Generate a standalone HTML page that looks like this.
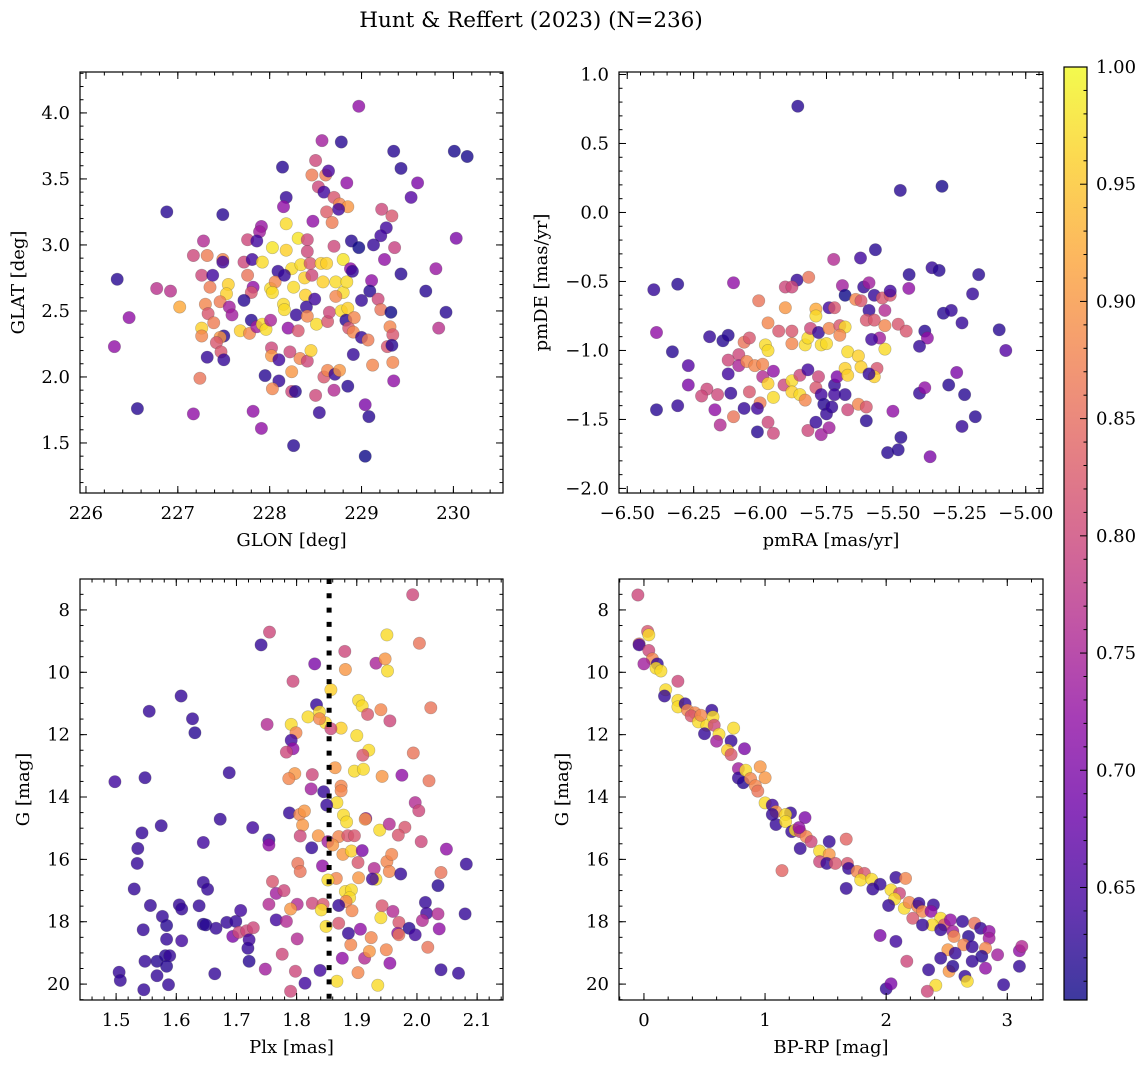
<!DOCTYPE html>
<html><head><meta charset="utf-8"><title>Hunt & Reffert (2023)</title>
<style>
html,body{margin:0;padding:0;background:#fff;}
svg{display:block;font-family:"DejaVu Serif","Liberation Serif",serif;}
</style></head>
<body>
<svg id="fig" width="1148" height="1067" viewBox="0 0 1148 1067" xmlns="http://www.w3.org/2000/svg">
<text x="531" y="27" text-anchor="middle" font-size="21.5" fill="#000">Hunt &amp; Reffert (2023) (N=236)</text>
</svg>
<script>
// ---- Panel 1: GLON / GLAT ----
const glon=[228.97,228.57,228.78,229.35,230.01,230.15,228.14,229.43,228.50,228.46,228.61,228.64,228.84,229.61,229.54,228.53,228.59,228.18,228.15,228.70,228.76,228.85,228.75,228.62,228.68,228.47,229.22,229.33,229.27,229.21,230.03,226.88,227.49,228.18,227.91,227.89,228.31,228.41,227.76,227.86,227.28,228.03,228.18,228.41,228.70,228.89,228.97,229.13,229.36,227.17,227.32,227.49,227.49,227.72,227.81,227.92,228.09,228.24,228.34,228.44,228.56,228.62,228.80,228.88,229.25,229.81,229.43,226.34,226.77,226.92,227.26,227.38,227.35,227.55,227.53,227.76,227.82,227.80,227.72,228.01,228.06,228.03,228.16,228.26,228.38,228.46,228.39,228.49,228.58,228.72,228.80,228.84,228.72,228.90,229.11,229.09,229.00,229.18,229.21,229.32,229.70,229.92,229.84,226.47,226.31,227.02,227.30,227.33,227.46,227.56,227.59,227.39,227.26,227.26,227.50,227.46,227.42,227.47,227.32,227.50,227.68,227.78,227.80,227.86,227.92,227.96,228.01,228.15,228.16,228.29,228.40,228.41,228.20,228.31,228.51,228.63,228.65,228.78,228.85,228.83,228.92,228.86,228.91,229.00,229.07,229.31,229.34,229.28,229.33,228.91,229.12,229.34,229.35,228.02,228.02,228.10,228.22,228.33,228.41,228.45,228.24,227.95,228.10,228.03,228.24,228.28,228.50,228.59,228.63,228.71,228.76,228.70,228.85,227.24,226.56,227.17,227.82,227.91,228.54,229.04,229.08,228.26,229.04];
const glat=[4.05,3.79,3.78,3.71,3.71,3.67,3.59,3.58,3.64,3.53,3.53,3.56,3.47,3.47,3.36,3.44,3.40,3.36,3.29,3.36,3.31,3.29,3.27,3.25,3.17,3.18,3.27,3.22,3.13,3.07,3.05,3.25,3.23,3.16,3.14,3.10,3.05,3.04,3.04,3.03,3.03,2.98,2.96,2.95,2.99,3.03,2.98,3.00,2.98,2.92,2.92,2.89,2.87,2.87,2.89,2.87,2.80,2.82,2.85,2.86,2.86,2.86,2.89,2.82,2.89,2.82,2.78,2.74,2.67,2.65,2.77,2.77,2.68,2.70,2.63,2.77,2.68,2.64,2.58,2.67,2.72,2.64,2.77,2.68,2.75,2.77,2.62,2.59,2.72,2.72,2.64,2.72,2.61,2.80,2.73,2.65,2.58,2.59,2.51,2.49,2.65,2.49,2.37,2.45,2.23,2.53,2.55,2.48,2.57,2.53,2.47,2.41,2.37,2.31,2.31,2.30,2.26,2.19,2.15,2.13,2.35,2.33,2.43,2.38,2.40,2.36,2.43,2.55,2.51,2.47,2.53,2.46,2.37,2.35,2.40,2.42,2.49,2.50,2.52,2.43,2.45,2.37,2.34,2.30,2.28,2.38,2.32,2.23,2.24,2.17,2.09,2.11,1.97,2.22,2.16,2.13,2.19,2.14,2.12,2.20,2.04,2.01,1.97,1.91,1.89,1.89,1.86,2.00,2.05,2.02,2.05,1.90,1.93,1.99,1.76,1.72,1.74,1.61,1.73,1.79,1.70,1.48,1.40];
const prob1=[0.72,0.74,0.62,0.62,0.61,0.61,0.62,0.62,0.8,0.87,0.87,0.65,0.72,0.7,0.66,0.8,0.64,0.63,0.72,0.82,0.88,0.9,0.64,0.83,0.87,0.72,0.8,0.82,0.64,0.64,0.7,0.62,0.62,0.97,0.73,0.74,0.98,0.8,0.8,0.64,0.76,0.98,0.96,0.8,0.8,0.62,0.6,0.63,0.79,0.8,0.87,0.88,0.64,0.8,0.64,0.97,0.63,0.97,0.97,0.82,0.96,0.96,0.98,0.72,0.72,0.73,0.62,0.62,0.77,0.77,0.8,0.64,0.87,0.96,0.96,0.86,0.72,0.82,0.62,0.97,0.88,0.97,0.63,0.97,0.96,0.8,0.96,0.64,0.96,0.97,0.97,0.97,0.88,0.63,0.72,0.62,0.63,0.8,0.86,0.6,0.62,0.62,0.77,0.72,0.72,0.92,0.88,0.82,0.87,0.74,0.74,0.87,0.96,0.88,0.62,0.9,0.82,0.82,0.63,0.63,0.96,0.88,0.62,0.74,0.97,0.97,0.75,0.97,0.97,0.63,0.63,0.88,0.72,0.82,0.97,0.82,0.8,0.97,0.96,0.62,0.88,0.82,0.88,0.63,0.87,0.88,0.82,0.82,0.62,0.63,0.88,0.88,0.72,0.8,0.9,0.64,0.8,0.88,0.8,0.96,0.9,0.62,0.63,0.88,0.8,0.62,0.8,0.82,0.88,0.63,0.9,0.76,0.62,0.86,0.62,0.72,0.72,0.72,0.63,0.7,0.62,0.62,0.6];
// ---- Panel 2: pmRA / pmDE ----
const pmra=[-5.858,-5.472,-5.315,-5.566,-5.622,-5.723,-5.353,-5.326,-5.439,-5.177,-6.40,-6.31,-6.10,-5.861,-5.817,-5.905,-5.88,-5.69,-5.68,-5.61,-5.59,-5.57,-5.54,-5.51,-5.51,-5.44,-5.20,-6.005,-5.905,-5.79,-5.79,-5.74,-5.72,-5.64,-5.62,-5.59,-5.53,-5.31,-5.28,-5.24,-5.10,-5.075,-6.39,-6.33,-6.27,-6.27,-6.39,-6.31,-6.19,-6.14,-6.12,-6.08,-6.06,-6.04,-6.12,-6.08,-6.05,-6.02,-5.99,-5.98,-5.97,-5.97,-5.93,-5.88,-5.88,-5.83,-5.82,-5.81,-5.78,-5.77,-5.75,-5.74,-5.70,-5.68,-5.70,-5.67,-5.63,-5.62,-5.60,-5.57,-5.53,-5.53,-5.55,-5.58,-5.48,-5.45,-5.38,-5.37,-5.40,-6.12,-5.99,-5.97,-5.95,-6.00,-6.01,-5.95,-5.91,-5.88,-5.88,-5.85,-5.83,-5.85,-5.82,-5.78,-5.79,-5.77,-5.76,-5.72,-5.72,-5.71,-5.68,-5.67,-5.68,-5.67,-5.63,-5.60,-5.56,-5.57,-5.59,-6.20,-6.22,-6.16,-6.11,-6.17,-6.15,-6.10,-6.06,-6.04,-6.01,-5.95,-5.97,-5.82,-5.79,-5.77,-5.74,-5.75,-5.73,-5.60,-5.50,-5.47,-5.52,-5.48,-5.36,-5.26,-5.29,-5.40,-5.38,-5.23,-5.24,-5.19];
const pmde=[0.77,0.16,0.19,-0.27,-0.33,-0.34,-0.40,-0.42,-0.45,-0.45,-0.56,-0.52,-0.51,-0.49,-0.47,-0.54,-0.54,-0.53,-0.60,-0.54,-0.51,-0.60,-0.62,-0.60,-0.57,-0.55,-0.59,-0.64,-0.69,-0.70,-0.75,-0.69,-0.69,-0.63,-0.64,-0.71,-0.71,-0.73,-0.71,-0.80,-0.85,-1.00,-0.87,-1.01,-1.11,-1.25,-1.43,-1.40,-0.90,-0.93,-0.89,-1.03,-0.94,-0.91,-1.07,-1.11,-1.08,-1.11,-1.10,-0.96,-1.00,-0.80,-0.86,-0.86,-0.95,-0.96,-0.91,-0.84,-0.87,-0.96,-0.95,-0.84,-0.82,-0.83,-0.89,-1.01,-1.04,-1.12,-0.78,-0.78,-0.82,-0.99,-0.91,-0.92,-0.81,-0.86,-0.86,-0.91,-0.97,-1.17,-1.19,-1.24,-1.34,-1.38,-1.42,-1.15,-1.25,-1.22,-1.30,-1.32,-1.36,-1.18,-1.14,-1.19,-1.27,-1.32,-1.39,-1.25,-1.32,-1.19,-1.13,-1.18,-1.32,-1.43,-1.39,-1.41,-1.13,-1.19,-1.17,-1.28,-1.33,-1.32,-1.31,-1.43,-1.54,-1.48,-1.42,-1.30,-1.59,-1.60,-1.52,-1.58,-1.52,-1.61,-1.56,-1.46,-1.41,-1.51,-1.44,-1.63,-1.74,-1.72,-1.77,-1.16,-1.25,-1.31,-1.27,-1.32,-1.55,-1.48];
const prob2=[0.62,0.62,0.61,0.62,0.64,0.76,0.63,0.62,0.62,0.62,0.63,0.62,0.72,0.63,0.86,0.8,0.8,0.74,0.6,0.63,0.74,0.63,0.82,0.82,0.64,0.72,0.63,0.86,0.9,0.92,0.97,0.64,0.82,0.88,0.82,0.63,0.76,0.62,0.63,0.63,0.62,0.66,0.72,0.62,0.66,0.7,0.62,0.63,0.63,0.62,0.62,0.8,0.86,0.82,0.8,0.75,0.88,0.88,0.88,0.97,0.97,0.88,0.82,0.82,0.88,0.97,0.97,0.8,0.63,0.97,0.97,0.88,0.82,0.97,0.88,0.97,0.96,0.96,0.82,0.82,0.88,0.97,0.74,0.64,0.82,0.82,0.62,0.72,0.63,0.64,0.76,0.96,0.97,0.87,0.64,0.72,0.8,0.97,0.96,0.97,0.88,0.8,0.64,0.8,0.82,0.64,0.62,0.63,0.64,0.7,0.96,0.96,0.63,0.8,0.88,0.82,0.82,0.96,0.63,0.8,0.8,0.8,0.63,0.72,0.76,0.86,0.63,0.82,0.62,0.8,0.8,0.8,0.63,0.74,0.74,0.63,0.63,0.62,0.72,0.62,0.62,0.62,0.7,0.7,0.62,0.63,0.72,0.62,0.63,0.62];
// ---- Panel 3: Plx / G ----
const plx=[1.993,1.755,1.741,1.950,2.004,1.880,1.830,1.932,1.947,1.951,1.881,1.794,1.857,1.608,1.555,1.627,1.631,1.833,1.838,1.819,1.848,1.791,1.751,1.838,1.903,1.909,1.940,1.918,1.955,2.023,1.874,1.857,1.799,1.791,1.794,1.783,1.900,1.920,1.910,1.994,1.864,1.896,1.911,1.797,1.787,1.826,1.688,1.498,1.548,1.942,1.975,2.020,1.824,1.874,1.874,1.845,1.867,1.850,1.997,2.003,1.788,1.805,1.813,1.810,1.878,1.883,1.915,1.914,1.938,1.954,1.980,1.969,2.007,2.049,2.082,1.673,1.727,1.575,1.543,1.536,1.535,1.645,1.754,1.754,1.806,1.836,1.852,1.870,1.885,1.896,1.825,1.860,1.877,1.891,1.909,1.902,1.802,1.806,1.843,1.929,1.950,1.958,1.954,1.973,2.040,2.035,1.932,1.926,1.903,1.866,1.852,1.760,1.645,1.652,1.530,1.766,1.779,1.881,1.891,1.888,1.882,1.892,1.826,1.801,1.790,1.754,1.844,1.841,1.870,1.942,1.940,1.960,1.970,2.014,2.016,2.009,2.035,2.037,2.080,1.557,1.577,1.584,1.545,1.605,1.609,1.638,1.645,1.649,1.666,1.684,1.699,1.707,1.694,1.704,1.717,1.728,1.721,1.719,1.721,1.584,1.609,1.548,1.568,1.582,1.589,1.584,1.568,1.587,1.546,1.505,1.507,1.664,1.748,1.798,1.839,1.790,1.814,1.867,1.902,1.935,2.040,2.069,1.955,1.913,1.876,1.776,1.801,1.849,1.870,1.766,1.783,1.890,1.886,1.906,1.924,1.921,1.949,1.968,1.987,1.997,2.018,1.970];
const gmag3=[7.51,8.71,9.12,8.80,9.07,9.33,9.73,9.71,9.57,9.96,9.91,10.29,10.56,10.76,11.25,11.49,11.94,11.04,11.27,11.43,11.62,11.67,11.67,11.49,10.90,11.08,11.20,11.35,11.56,11.14,11.79,11.81,11.94,12.18,12.45,12.56,12.03,12.50,12.66,12.59,13.06,13.17,13.11,13.25,13.41,13.28,13.22,13.51,13.38,13.34,13.30,13.48,13.74,13.65,13.80,13.83,14.18,14.26,14.18,14.44,14.51,14.56,14.45,14.90,14.58,14.80,14.69,14.71,15.06,14.87,14.97,15.22,15.43,15.67,16.15,14.71,14.98,14.92,15.15,15.65,16.13,15.46,15.38,15.54,15.25,15.24,15.43,15.27,15.24,15.24,15.63,15.54,15.84,15.73,15.72,16.10,16.13,16.39,16.21,16.29,16.07,15.84,16.39,16.47,16.42,16.84,16.64,16.63,16.59,16.61,16.66,16.71,16.74,16.96,16.95,17.09,17.00,17.03,16.98,17.23,17.35,17.65,17.41,17.44,17.59,17.44,17.44,17.62,17.48,17.49,17.87,17.67,18.02,17.38,17.73,17.96,17.75,18.23,17.75,17.48,17.83,18.12,18.26,17.46,17.59,17.49,18.08,18.10,18.21,18.02,17.99,17.64,18.47,18.34,18.29,18.19,18.58,18.85,19.27,18.56,18.61,19.27,19.27,19.09,19.09,19.43,19.73,20.02,20.18,19.62,19.88,19.67,19.52,19.59,19.56,20.23,19.97,19.91,19.63,20.04,19.54,19.65,19.33,19.17,19.17,19.04,18.55,18.15,18.05,17.94,17.99,18.74,18.37,18.24,18.51,18.95,18.90,18.37,18.21,18.42,18.82,18.42];
const prob3=[0.8,0.8,0.63,0.97,0.86,0.8,0.7,0.75,0.9,0.97,0.9,0.8,0.96,0.63,0.63,0.63,0.62,0.63,0.97,0.97,0.97,0.97,0.76,0.88,0.97,0.97,0.88,0.82,0.8,0.86,0.96,0.8,0.88,0.64,0.72,0.8,0.97,0.97,0.82,0.86,0.9,0.97,0.97,0.9,0.88,0.8,0.63,0.64,0.63,0.9,0.72,0.86,0.74,0.88,0.88,0.63,0.97,0.63,0.76,0.8,0.63,0.88,0.9,0.9,0.97,0.97,0.72,0.9,0.97,0.76,0.82,0.82,0.8,0.72,0.63,0.63,0.64,0.63,0.63,0.63,0.63,0.64,0.63,0.72,0.8,0.9,0.74,0.88,0.82,0.82,0.63,0.9,0.9,0.96,0.7,0.82,0.86,0.86,0.72,0.76,0.88,0.88,0.88,0.63,0.86,0.62,0.97,0.64,0.9,0.88,0.97,0.82,0.63,0.63,0.63,0.74,0.8,0.97,0.97,0.97,0.88,0.88,0.8,0.76,0.9,0.76,0.82,0.97,0.63,0.82,0.97,0.76,0.82,0.63,0.64,0.76,0.76,0.72,0.63,0.63,0.63,0.62,0.63,0.63,0.63,0.63,0.62,0.62,0.63,0.63,0.63,0.64,0.7,0.8,0.8,0.8,0.64,0.63,0.62,0.63,0.64,0.63,0.62,0.62,0.63,0.62,0.63,0.63,0.63,0.63,0.63,0.63,0.74,0.8,0.64,0.8,0.64,0.97,0.88,0.97,0.63,0.63,0.72,0.76,0.72,0.8,0.76,0.97,0.82,0.64,0.76,0.88,0.63,0.72,0.88,0.9,0.88,0.72,0.62,0.64,0.86,0.86];
// ---- Panel 4: BP-RP / G ----
const bprp=[-0.05,0.03,0.04,-0.04,-0.04,0.04,0.07,0.11,0.0,0.10,0.14,0.28,0.18,0.17,0.28,0.28,0.34,0.36,0.42,0.39,0.45,0.52,0.50,0.56,0.57,0.58,0.62,0.60,0.74,0.72,0.83,0.69,0.72,0.78,0.78,0.84,0.82,0.88,0.96,1.00,0.92,0.94,1.00,1.06,1.09,1.21,1.33,1.17,1.09,1.17,1.22,1.25,1.29,1.34,1.38,1.29,1.53,1.45,1.53,1.67,1.14,1.45,1.51,1.58,1.68,1.69,1.76,1.82,1.79,1.88,2.08,2.16,1.67,1.95,1.89,2.04,2.11,2.07,2.02,2.15,2.19,2.26,2.27,2.30,2.22,2.39,2.37,2.45,2.38,2.30,2.48,2.53,2.63,2.73,2.55,2.56,2.45,2.68,2.78,2.85,2.85,2.64,2.51,2.57,2.71,2.82,2.92,2.79,2.71,2.45,2.35,2.52,2.55,2.65,2.67,2.82,3.10,3.12,3.10,2.97,2.41,2.34,2.00,2.04,1.95,2.08,2.17,0.47,1.06,1.28];
const gmag4=[7.52,8.69,8.80,9.09,9.12,9.30,9.57,9.73,9.73,9.87,9.96,10.29,10.56,10.76,10.90,11.11,11.01,11.22,11.30,11.40,11.59,11.70,11.97,11.22,11.43,11.70,11.99,12.21,11.79,12.20,12.45,12.50,12.64,13.09,13.39,13.14,13.54,13.41,13.03,13.38,13.64,13.81,14.19,14.26,14.47,14.51,14.66,14.56,14.88,14.79,15.11,15.06,15.11,15.27,15.43,15.65,15.43,15.73,15.84,15.35,16.36,16.07,16.13,16.13,16.13,16.29,16.39,16.45,16.66,16.64,16.58,16.61,16.93,16.80,16.95,16.98,17.09,17.27,17.48,17.57,17.38,17.51,17.41,17.67,17.89,17.46,17.67,17.89,18.10,18.10,18.10,17.94,17.99,18.05,18.31,18.47,18.26,18.47,18.21,18.31,18.53,18.74,18.90,19.01,18.80,18.85,19.06,19.11,19.27,19.17,19.54,19.59,19.43,19.75,19.91,19.49,18.93,18.79,19.43,20.02,20.04,20.23,20.15,19.99,18.44,18.63,19.27,11.38,14.56,14.98];
const prob4=[0.8,0.82,0.97,0.86,0.64,0.8,0.88,0.63,0.74,0.97,0.97,0.8,0.97,0.63,0.97,0.97,0.63,0.88,0.88,0.82,0.97,0.97,0.63,0.63,0.97,0.8,0.97,0.74,0.97,0.63,0.7,0.96,0.82,0.74,0.63,0.97,0.62,0.88,0.9,0.9,0.88,0.86,0.97,0.64,0.9,0.63,0.7,0.97,0.63,0.97,0.63,0.97,0.8,0.88,0.8,0.63,0.63,0.97,0.9,0.84,0.84,0.8,0.63,0.82,0.82,0.63,0.88,0.82,0.97,0.97,0.63,0.88,0.63,0.63,0.63,0.97,0.8,0.97,0.63,0.97,0.88,0.88,0.63,0.88,0.82,0.63,0.72,0.97,0.97,0.63,0.82,0.72,0.63,0.86,0.74,0.88,0.63,0.62,0.63,0.72,0.74,0.88,0.9,0.63,0.63,0.88,0.74,0.62,0.63,0.63,0.63,0.9,0.62,0.63,0.97,0.72,0.72,0.76,0.63,0.63,0.97,0.8,0.63,0.7,0.7,0.64,0.8,0.88,0.63,0.72];
// ---- colorbar ----
const cbMin=0.602, cbMax=1.0;
const cbTicks=[0.65,0.70,0.75,0.80,0.85,0.90,0.95,1.00];

const NS='http://www.w3.org/2000/svg';
const svg=document.getElementById('fig');
const FS=18;
const plasma=[[13,8,135],[65,4,157],[106,0,168],[143,13,164],[177,42,144],[204,71,120],[225,100,98],[242,132,75],[252,166,54],[252,206,37],[240,249,33]];
function cmap(v){let t=(v-cbMin)/(cbMax-cbMin);t=Math.max(0,Math.min(1,t));const f=t*10,i=Math.min(9,Math.floor(f)),r=f-i;const a=plasma[i],b=plasma[i+1];return 'rgb('+a.map((c,k)=>Math.round(c+(b[k]-c)*r)).join(',')+')';}
function el(tag,attrs,parent){const e=document.createElementNS(NS,tag);for(const k in attrs)e.setAttribute(k,attrs[k]);(parent||svg).appendChild(e);return e;}
function fmt(v,d){return (v<0?'\u2212':'')+Math.abs(v).toFixed(d);}

function panel(cfg){
  const g=el('g',{});
  
  
  const X=v=>cfg.x0+(v-cfg.xmin)/(cfg.xmax-cfg.xmin)*(cfg.x1-cfg.x0);
  const Y=cfg.invert?(v=>cfg.y0+(v-cfg.ymin)/(cfg.ymax-cfg.ymin)*(cfg.y1-cfg.y0)):(v=>cfg.y1-(v-cfg.ymin)/(cfg.ymax-cfg.ymin)*(cfg.y1-cfg.y0));
  const pg=el('g',{},g);
  
  
  for(let i=0;i<cfg.xs.length;i++){
    const c=el('circle',{cx:X(cfg.xs[i]).toFixed(1),cy:Y(cfg.ys[i]).toFixed(1),r:6.2,fill:cmap(cfg.cs[i]),'fill-opacity':0.8,stroke:'#444','stroke-opacity':0.35,'stroke-width':0.6},pg);
    
    
  }
  if(cfg.vline!==undefined){
    const l=el('line',{x1:X(cfg.vline),x2:X(cfg.vline),y1:cfg.y0,y2:cfg.y1,stroke:'#000','stroke-width':5,'stroke-dasharray':'5,9.3'},g);
    
    
  }
  const fr=el('rect',{x:cfg.x0,y:cfg.y0,width:cfg.x1-cfg.x0,height:cfg.y1-cfg.y0,fill:'none',stroke:'#000','stroke-width':1.2},g);
  
  
  const tg=el('g',{stroke:'#000','stroke-width':1},g);
  const eps=1e-9;
  function ticksX(step,len){const s=Math.ceil(cfg.xmin/step-eps);for(let k=s;k*step<=cfg.xmax+eps;k++){const x=X(k*step);el('line',{x1:x,x2:x,y1:cfg.y1,y2:cfg.y1-len},tg);el('line',{x1:x,x2:x,y1:cfg.y0,y2:cfg.y0+len},tg);}}
  function ticksY(step,len){const lo=Math.min(cfg.ymin,cfg.ymax),hi=Math.max(cfg.ymin,cfg.ymax);const s=Math.ceil(lo/step-eps);for(let k=s;k*step<=hi+eps;k++){const y=Y(k*step);el('line',{x1:cfg.x0,x2:cfg.x0+len,y1:y,y2:y},tg);el('line',{x1:cfg.x1,x2:cfg.x1-len,y1:y,y2:y},tg);}}
  ticksX(cfg.xminor,3.5);ticksX(cfg.xmajor,7);ticksY(cfg.yminor,3.5);ticksY(cfg.ymajor,7);
  cfg.xticks.forEach(v=>{const t=el('text',{x:X(v),y:cfg.y1+26,'text-anchor':'middle','font-size':FS,fill:'#000'},g);t.textContent=fmt(v,cfg.xdec);});
  cfg.yticks.forEach(v=>{const t=el('text',{x:cfg.x0-10,y:Y(v)+6,'text-anchor':'end','font-size':FS,fill:'#000'},g);t.textContent=fmt(v,cfg.ydec);});
  const xl=el('text',{x:(cfg.x0+cfg.x1)/2,y:cfg.y1+53,'text-anchor':'middle','font-size':FS,fill:'#000'},g);xl.textContent=cfg.xlabel;
  
  
  const yx=cfg.ylx, yy=(cfg.y0+cfg.y1)/2;
  const yl=el('text',{x:yx,y:yy,'text-anchor':'middle','font-size':FS,fill:'#000',transform:'rotate(-90 '+yx+' '+yy+')'},g);yl.textContent=cfg.ylabel;
  
  
}

panel({name:'glon-glat-panel',x0:80,x1:503,y0:72,y1:493,xmin:225.935,xmax:230.54,ymin:1.121,ymax:4.31,xs:glon,ys:glat,cs:prob1,xmajor:1,xminor:0.2,ymajor:0.5,yminor:0.1,xticks:[226,227,228,229,230],xdec:0,yticks:[1.5,2.0,2.5,3.0,3.5,4.0],ydec:1,xlabel:'GLON [deg]',ylabel:'GLAT [deg]',ylx:24});
panel({name:'proper-motion-panel',x0:619,x1:1043,y0:72,y1:493,xmin:-6.531,xmax:-4.935,ymin:-2.033,ymax:1.018,xs:pmra,ys:pmde,cs:prob2,xmajor:0.25,xminor:0.05,ymajor:0.5,yminor:0.1,xticks:[-6.5,-6.25,-6.0,-5.75,-5.5,-5.25,-5.0],xdec:2,yticks:[-2,-1.5,-1,-0.5,0,0.5,1],ydec:1,xlabel:'pmRA [mas/yr]',ylabel:'pmDE [mas/yr]',ylx:547});
panel({name:'parallax-magnitude-panel',x0:80,x1:503,y0:579,y1:1000,xmin:1.440,xmax:2.143,ymin:7.008,ymax:20.51,invert:true,xs:plx,ys:gmag3,cs:prob3,vline:1.854,xmajor:0.1,xminor:0.02,ymajor:2,yminor:0.5,xticks:[1.5,1.6,1.7,1.8,1.9,2.0,2.1],xdec:1,yticks:[8,10,12,14,16,18,20],ydec:0,xlabel:'Plx [mas]',ylabel:'G [mag]',ylx:29});
panel({name:'color-magnitude-panel',x0:619,x1:1043,y0:579,y1:1000,xmin:-0.206,xmax:3.295,ymin:7.008,ymax:20.51,invert:true,xs:bprp,ys:gmag4,cs:prob4,xmajor:1,xminor:0.2,ymajor:2,yminor:0.5,xticks:[0,1,2,3],xdec:0,yticks:[8,10,12,14,16,18,20],ydec:0,xlabel:'BP-RP [mag]',ylabel:'G [mag]',ylx:568});

(function(){
  const x0=1064,x1=1087,y0=67,y1=1000;
  const g=el('g',{});
  
  
  const defs=el('defs',{},g);
  const lg=el('linearGradient',{id:'cbg',x1:0,y1:1,x2:0,y2:0},defs);
  for(let i=0;i<=20;i++){const v=cbMin+(cbMax-cbMin)*i/20;el('stop',{offset:(i/20),'stop-color':cmap(v)},lg);}
  const r=el('rect',{x:x0,y:y0,width:x1-x0,height:y1-y0,fill:'url(#cbg)','fill-opacity':0.8},g);
  
  
  el('rect',{x:x0,y:y0,width:x1-x0,height:y1-y0,fill:'none',stroke:'#000','stroke-width':1.2},g);
  const Yc=v=>y1-(v-cbMin)/(cbMax-cbMin)*(y1-y0);
  for(let k=Math.ceil(cbMin*100);k<=100;k++){const y=Yc(k/100);const major=k%5===0;el('line',{x1:x1,x2:x1-(major?7:3.5),y1:y,y2:y,stroke:'#000','stroke-width':1},g);}
  cbTicks.forEach(v=>{const t=el('text',{x:x1+9,y:Yc(v)+6,'font-size':FS,fill:'#000'},g);t.textContent=v.toFixed(2);});
})();
</script>
</body></html>
